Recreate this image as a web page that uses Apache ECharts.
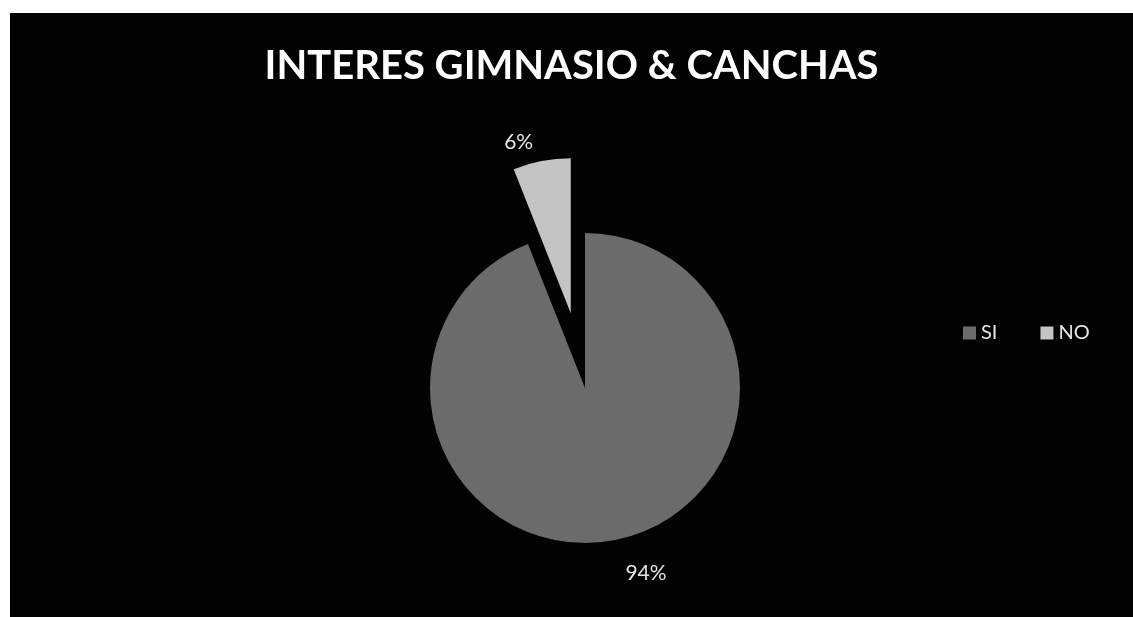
<!DOCTYPE html>
<html>
<head>
<meta charset="utf-8">
<style>
html,body{margin:0;padding:0;background:#ffffff;width:1133px;height:617px;overflow:hidden;}
#chart{position:absolute;left:10px;top:13px;width:1123px;height:604px;background:#020202;}
</style>
<script src="https://cdn.jsdelivr.net/npm/echarts@6/dist/echarts.min.js"></script>
</head>
<body>
<div id="chart"></div>
<script>
const titleText = 'INTERES GIMNASIO & CANCHAS';
const categories = ['SI', 'NO'];
const values = [94, 6];
const sliceColors = ['#6b6b6b', '#c4c4c4'];
const labelGaps = [34, 19];

const chart = echarts.init(document.getElementById('chart'));
chart.setOption({
  backgroundColor: '#020202',
  animation: false,
  title: {
    text: titleText,
    left: 'center',
    top: 28,
    textStyle: { color: '#ffffff', fontFamily: 'Lato', fontWeight: 'bold', fontSize: 40 }
  },
  legend: {
    data: categories,
    orient: 'horizontal',
    left: 948,
    top: 305,
    itemWidth: 13,
    itemHeight: 13,
    itemGap: 43,
    icon: 'rect',
    textStyle: { color: '#e6e6e6', fontFamily: 'Lato', fontSize: 20 }
  },
  series: [{
    type: 'pie',
    center: [575, 375],
    radius: 155,
    startAngle: 90,
    clockwise: true,
    selectedMode: 'single',
    selectedOffset: 76,
    avoidLabelOverlap: false,
    label: {
      show: true,
      position: 'outside',
      formatter: '{d}%',
      color: '#e6e6e6',
      fontFamily: 'Lato',
      fontSize: 21
    },
    labelLine: { show: false, length: 14, length2: 0 },
    itemStyle: { borderWidth: 0 },
    emphasis: { disabled: true },
    data: categories.map((c, i) => ({
      name: c,
      value: values[i],
      selected: c === 'NO',
      itemStyle: { color: sliceColors[i] },
      labelLine: { show: false, length: labelGaps[i], length2: 0 }
    }))
  }]
});
</script>
</body>
</html>
